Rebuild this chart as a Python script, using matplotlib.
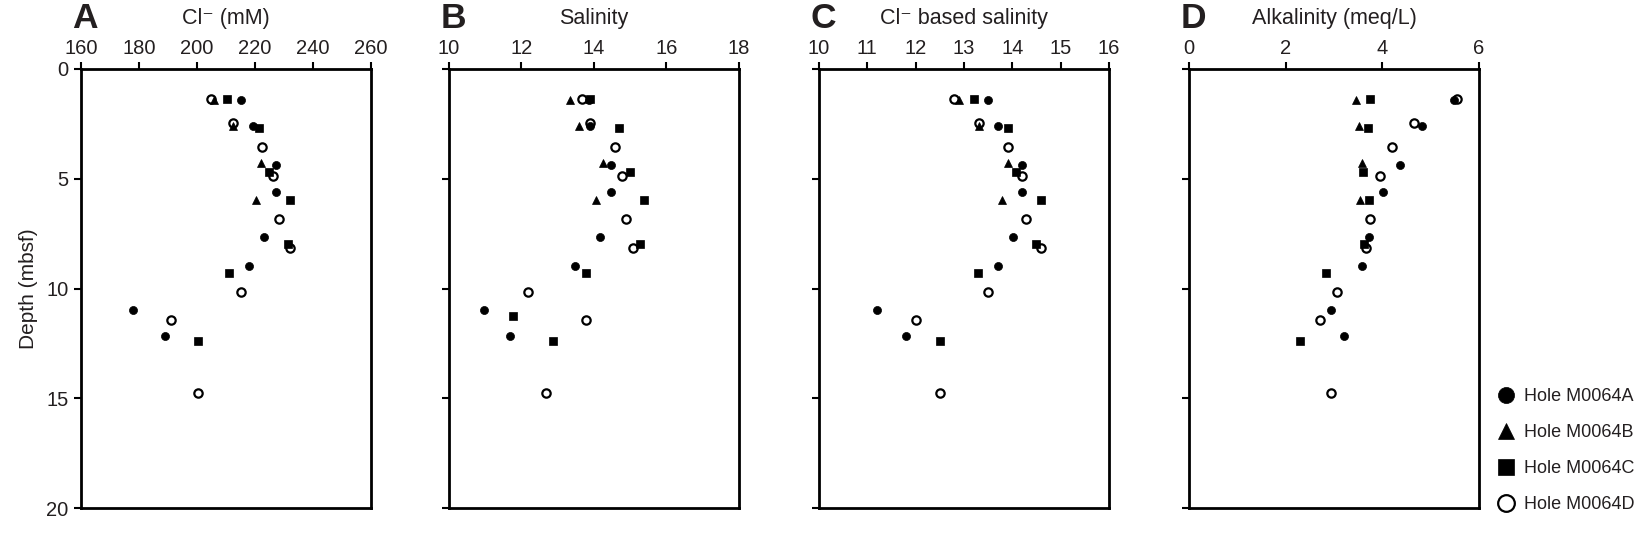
import numpy as np
import matplotlib
matplotlib.use("Agg")
import matplotlib.pyplot as plt
from matplotlib.lines import Line2D

plt.rcParams['font.family'] = ['Liberation Sans', 'DejaVu Sans']

TXT = '#231f20'

# depths (mbsf) per hole
depth_a = [1.40, 2.58, 4.38, 5.59, 7.67, 8.98, 10.97, 12.17]
depth_b = [1.40, 2.60, 4.29, 5.99]
depth_c = [1.37, 2.69, 4.68, 5.96, 7.98, 9.30, 11.25, 12.37]
depth_d = [1.37, 2.46, 3.56, 4.86, 6.85, 8.16, 10.15, 11.44, 14.77]

# chloride (mM)
cl_a = [215.1, 219.3, 227.2, 227.2, 223.2, 218.0, 178.1, 189.0]
cl_b = [206.0, 212.4, 222.2, 220.3]
cl_c = [210.4, 221.4, 224.9, 232.2, 231.3, 211.0, np.nan, 200.4]
cl_d = [204.9, 212.4, 222.3, 226.2, 228.3, 232.2, 215.2, 191.1, 200.3]

# salinity
sal_a = [13.85, 13.88, 14.48, 14.48, 14.17, 13.48, 10.97, 11.67]
sal_b = [13.33, 13.59, 14.24, 14.05]
sal_c = [13.88, 14.69, 15.00, 15.39, 15.27, 13.78, 11.77, 12.87]
sal_d = [13.66, 13.88, 14.58, 14.77, 14.88, 15.08, 12.17, 13.78, 12.67]

# Cl- based salinity
clsal_a = [13.50, 13.70, 14.21, 14.21, 14.01, 13.70, 11.20, 11.80]
clsal_b = [12.90, 13.30, 13.90, 13.79]
clsal_c = [13.20, 13.91, 14.07, 14.59, 14.49, 13.29, np.nan, 12.51]
clsal_d = [12.79, 13.30, 13.90, 14.19, 14.29, 14.60, 13.50, 12.00, 12.50]

# alkalinity (meq/L)
alk_a = [5.48, 4.83, 4.37, 4.01, 3.73, 3.57, 2.94, 3.20]
alk_b = [3.45, 3.52, 3.57, 3.54]
alk_c = [3.75, 3.71, 3.60, 3.73, 3.62, 2.84, np.nan, 2.30]
alk_d = [5.55, 4.66, 4.20, 3.96, 3.75, 3.66, 3.06, 2.70, 2.93]

hole_names = ['Hole M0064A', 'Hole M0064B', 'Hole M0064C', 'Hole M0064D']
depths = [depth_a, depth_b, depth_c, depth_d]

panels = [
    ('A', 'Cl\u207b (mM)', [cl_a, cl_b, cl_c, cl_d], (160, 260), [160, 180, 200, 220, 240, 260]),
    ('B', 'Salinity', [sal_a, sal_b, sal_c, sal_d], (10, 18), [10, 12, 14, 16, 18]),
    ('C', 'Cl\u207b based salinity', [clsal_a, clsal_b, clsal_c, clsal_d], (10, 16), [10, 11, 12, 13, 14, 15, 16]),
    ('D', 'Alkalinity (meq/L)', [alk_a, alk_b, alk_c, alk_d], (0, 6), [0, 2, 4, 6]),
]

styles = [
    dict(marker='o', ms=5.8, mfc='black', mec='black', mew=0.5),
    dict(marker='^', ms=6.0, mfc='black', mec='black', mew=0.5),
    dict(marker='s', ms=6.0, mfc='black', mec='black', mew=0.5),
    dict(marker='o', ms=6.0, mfc='none', mec='black', mew=1.6),
]

W, H = 1646, 559
fig = plt.figure(figsize=(W / 100, H / 100), dpi=100)

lefts = [81, 449, 819, 1189]
ax_w, ax_top, ax_bot = 290, 69, 508

for i, (letter, title, vals, xlim, xticks) in enumerate(panels):
    ax = fig.add_axes([lefts[i] / W, 1 - ax_bot / H, ax_w / W, (ax_bot - ax_top) / H])
    for j in range(4):
        ax.plot(vals[j], depths[j], linestyle='none', zorder=3, **styles[j])
    ax.set_xlim(*xlim)
    ax.set_ylim(20, 0)
    ax.set_xticks(xticks)
    ax.set_yticks([0, 5, 10, 15, 20])
    ax.xaxis.tick_top()
    ax.tick_params(axis='both', direction='out', length=5, width=1.5,
                   labelsize=14.5, colors='black', labelcolor=TXT, pad=3)
    ax.tick_params(axis='y', pad=4)
    for sp in ax.spines.values():
        sp.set_linewidth(2.0)
    if i == 0:
        ax.set_ylabel('Depth (mbsf)', fontsize=15, color=TXT, labelpad=6)
    else:
        ax.set_yticklabels([])
    ax.text(0.5, 1.115, title, transform=ax.transAxes, ha='center', va='center',
            fontsize=15.5, color=TXT)
    ax.text(0.015, 1.115, letter, transform=ax.transAxes, ha='center', va='center',
            fontsize=25.5, fontweight='bold', color=TXT)

handles = [Line2D([], [], linestyle='none', **s) for s in styles]
fig.legend(handles, hole_names, loc='lower left', bbox_to_anchor=(1496 / W, 0.082),
           frameon=False, fontsize=13, markerscale=2.0, handlelength=1.1,
           handletextpad=0.45, labelspacing=1.05, borderpad=0, borderaxespad=0,
           labelcolor=TXT)

fig.savefig('out.png', dpi=100)
